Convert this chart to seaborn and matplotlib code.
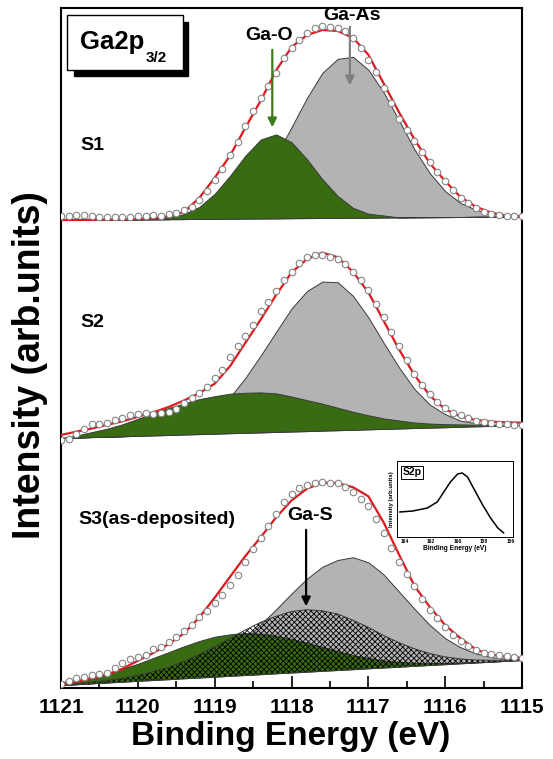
import matplotlib
matplotlib.use("Agg")
import numpy as np
import pandas as pd
import seaborn as sns
import matplotlib.pyplot as plt
from matplotlib.patches import Rectangle

# ---------------- data ----------------
E31 = [1121.0, 1120.8, 1120.6, 1120.4, 1120.2, 1120.0, 1119.8, 1119.6, 1119.4, 1119.2,
       1119.0, 1118.8, 1118.6, 1118.4, 1118.2, 1118.0, 1117.8, 1117.6, 1117.4, 1117.2,
       1117.0, 1116.8, 1116.6, 1116.4, 1116.2, 1116.0, 1115.8, 1115.6, 1115.4, 1115.2, 1115.0]
E61 = [1121.0, 1120.9, 1120.8, 1120.7, 1120.6, 1120.5, 1120.4, 1120.3, 1120.2, 1120.1,
       1120.0, 1119.9, 1119.8, 1119.7, 1119.6, 1119.5, 1119.4, 1119.3, 1119.2, 1119.1,
       1119.0, 1118.9, 1118.8, 1118.7, 1118.6, 1118.5, 1118.4, 1118.3, 1118.2, 1118.1,
       1118.0, 1117.9, 1117.8, 1117.7, 1117.6, 1117.5, 1117.4, 1117.3, 1117.2, 1117.1,
       1117.0, 1116.9, 1116.8, 1116.7, 1116.6, 1116.5, 1116.4, 1116.3, 1116.2, 1116.1,
       1116.0, 1115.9, 1115.8, 1115.7, 1115.6, 1115.5, 1115.4, 1115.3, 1115.2, 1115.1, 1115.0]

# S1
s1_bg = [0, 0.1, 0.2, 0.4, 0.5, 0.6, 0.7, 0.8, 0.9, 1.1, 1.2, 1.3, 1.4, 1.5, 1.6, 1.8,
         1.9, 2.0, 2.1, 2.2, 2.3, 2.5, 2.6, 2.7, 2.8, 2.9, 3.0, 3.2, 3.3, 3.4, 3.5]
s1_gao = [0, 0, 0, 0, 0, 0, 1, 2, 5, 12, 25, 43, 63, 79, 84, 76, 59, 39, 22, 10, 4, 2,
          0, 0, 0, 0, 0, 0, 0, 0, 0]
s1_gaas = [0, 0, 0, 0, 0, 0, 0, 0, 1, 3, 6, 12, 23, 40, 63, 91, 120, 145, 159, 161, 148,
           125, 97, 68, 44, 26, 14, 7, 3, 1, 0]
s1_fit = [0, 0, 0, 0, 0, 0.5, 1, 3, 7, 21, 41, 63, 91, 118, 148, 171, 183, 188, 187, 180,
          163, 134, 105, 78, 54, 36, 20, 10, 4, 1, 0]
s1_data = [4, 4, 5, 5, 4, 3, 3, 3, 3, 3, 4, 4, 5, 4, 6, 7, 10, 13, 20, 29, 40, 51, 65, 78,
           94, 109, 122, 134, 147, 162, 172, 180, 187, 192, 194, 193, 192, 189, 182, 172,
           160, 148, 132, 117, 101, 90, 79, 68, 58, 48, 39, 30, 22, 17, 12, 8, 6, 5, 4, 4, 4]

# S2
s2_bg = [0, 0.4, 0.9, 1.3, 1.7, 2.2, 2.6, 3.0, 3.5, 3.9, 4.3, 4.8, 5.2, 5.6, 6.1, 6.5,
         6.9, 7.4, 7.8, 8.2, 8.7, 9.1, 9.5, 10.0, 10.4, 10.8, 11.3, 11.7, 12.1, 12.6, 13.0]
s2_gao = [0, 2, 5, 8, 12, 17, 22, 27, 31, 35, 37.5, 39.5, 40, 40, 38.5, 35, 31, 27, 22.5,
          18, 14, 10.5, 8, 5.5, 4, 3, 2.3, 1.6, 1, 0.5, 0.2]
s2_gaas = [0, 0, 0, 0, 0, 1, 2, 3.5, 7, 13, 22, 36, 55, 77, 100, 123, 140, 149, 148, 134,
           112, 86, 61, 39, 23, 13, 6, 3, 1, 0.5, 0]
s2_fit = [3, 6, 8.5, 12, 15, 19, 23, 28, 34, 41, 50, 67, 90, 113, 137, 159, 172, 178, 173,
          158, 137, 108, 79, 53, 32, 18, 10, 6.3, 4.2, 3, 2.3]
s2_data = [-1.5, -1, 4, 9, 13.7, 14, 15.5, 18.5, 20.5, 23, 24.5, 25, 24, 25, 26.5, 29.5,
           35, 40, 45, 51.5, 60, 68, 81, 92, 102, 113, 127, 136, 147, 158, 166, 175, 181,
           183, 183, 181, 179, 174, 166, 158, 148, 134, 121, 106, 92, 78, 64, 53, 44,
           36.5, 30, 25.5, 23, 20, 17.5, 16, 15, 14.5, 14, 13, 13]

# S3
s3_bg = [0, 0.8, 1.7, 2.5, 3.3, 4.2, 5.0, 5.8, 6.7, 7.5, 8.3, 9.2, 10.0, 10.8, 11.7, 12.5,
         13.3, 14.2, 15.0, 15.8, 16.7, 17.5, 18.3, 19.2, 20.0, 20.8, 21.7, 22.5, 23.3, 24.2, 25.0]
s3_gao = [3, 4, 6.5, 9, 13, 17, 22, 27, 32, 36.5, 40, 41.5, 42, 40.5, 37.5, 33.5, 29, 24,
          19, 14, 10.5, 7, 5, 3, 2, 1.2, 0.7, 0.4, 0.2, 0.1, 0]
s3_gas = [0.4, 0.7, 1.2, 2, 3.5, 5.5, 8.5, 12, 17, 23, 30, 37.5, 45, 52, 57, 61, 62, 60, 56,
          49, 41, 32, 24, 17, 11.5, 7.3, 4.4, 2.5, 1.4, 0.7, 0.4]
s3_gaas = [0, 0, 0, 0.3, 0.5, 1, 2, 3.7, 6.5, 10.7, 17, 25, 36, 50, 64, 79, 93, 104, 110,
           112, 106, 93, 75, 57, 40, 26, 16, 9, 4.5, 2, 1]
s3_fit = [1, 2.5, 4.5, 8, 13, 20, 27, 35, 45, 60, 79, 99, 119, 137, 156, 172, 183, 188, 187,
          182, 172, 145, 112, 80, 58, 39, 25, 13, 7, 4, 2]
s3_data = [1, 4, 7, 8.5, 10, 11, 12, 17, 22, 26, 28, 30, 36, 38, 43, 48, 54, 60, 68, 74, 82,
           90, 100, 110, 123, 136, 147, 159, 171, 183, 191, 197, 200, 202, 203, 202, 202,
           198, 193, 186, 179, 166, 152, 137, 123, 111, 99, 86, 75, 67, 58, 50, 44, 39, 35,
           32.5, 31, 30, 29, 28, 27]

# inset S2p
s2p_E = [164.4, 163.4, 162.3, 161.55, 161.1, 160.55, 160.0, 159.65, 159.25, 158.8, 158.1,
         157.5, 156.95, 156.5]
s2p_I = [25, 26, 29, 35, 44, 55, 63, 64, 60, 49, 32, 19, 9, 4]

x_ticks = [1121, 1120, 1119, 1118, 1117, 1116, 1115]
panel_names = ["S1", "S2", "S3(as-deposited)"]

# ---------------- style ----------------
sns.set_style("white")
plt.rcParams['font.family'] = ['Liberation Sans', 'DejaVu Sans']
plt.rcParams['font.weight'] = 'bold'
plt.rcParams['text.color'] = 'black'
plt.rcParams['axes.labelcolor'] = 'black'
plt.rcParams['xtick.color'] = 'black'
plt.rcParams['ytick.color'] = 'black'
plt.rcParams['hatch.linewidth'] = 0.6

GREEN = "#386b12"
GRAY = "#b3b3b3"
EDGE = "#3a3a3a"
RED = "#e0191f"

W, H = 553, 759
fig = plt.figure(figsize=(W / 100, H / 100), dpi=100)
ax = fig.add_axes([61 / W, 1 - 688 / H, 461 / W, 680 / H])

offsets = [468, 250, 3]
panels = [
    dict(bg=s1_bg, comps=[(s1_gaas, GRAY, None), (s1_gao, GREEN, None)], fit=s1_fit, data=s1_data),
    dict(bg=s2_bg, comps=[(s2_gaas, GRAY, None), (s2_gao, GREEN, None)], fit=s2_fit, data=s2_data),
    dict(bg=s3_bg, comps=[(s3_gaas, GRAY, None), (s3_gao, GREEN, None), (s3_gas, "none", "xxxxxx")],
         fit=s3_fit, data=s3_data),
]

x31 = np.array(E31)
x61 = np.array(E61)
for off, p in zip(offsets, panels):
    base = off + np.array(p["bg"])
    for k, (comp, col, hatch) in enumerate(p["comps"]):
        top = base + np.array(comp)
        if hatch:
            ax.fill_between(x31, base, top, facecolor="none", edgecolor="black",
                            hatch=hatch, linewidth=0, zorder=2 + k)
            ax.plot(x31, top, color=EDGE, lw=0.7, zorder=2 + k)
        else:
            ax.fill_between(x31, base, top, facecolor=col, edgecolor=EDGE,
                            linewidth=0.7, zorder=2 + k)
    fit_df = pd.DataFrame({"E": x31, "I": base + np.array(p["fit"])})
    sns.lineplot(data=fit_df, x="E", y="I", ax=ax, color=RED, lw=1.6, sort=False,
                 zorder=6)
    dat_df = pd.DataFrame({"E": x61, "I": off + np.array(p["data"])})
    sns.scatterplot(data=dat_df, x="E", y="I", ax=ax, s=22, facecolor="white",
                    edgecolor="#858585", linewidth=0.8, zorder=7, legend=False)

ax.set_xlim(1121, 1115)
ax.set_ylim(0, 680)
ax.set_xticks(x_ticks)
ax.set_xticklabels([str(t) for t in x_ticks], fontsize=15, fontweight='bold')
ax.set_xticks([1120.5, 1119.5, 1118.5, 1117.5, 1116.5, 1115.5], minor=True)
ax.set_yticks([])
ax.tick_params(axis='x', which='major', direction='in', length=9, width=1.2, pad=7,
               bottom=True, top=False, colors='black')
ax.tick_params(axis='x', which='minor', direction='in', length=5, width=1.2,
               bottom=True, top=False, colors='black')
ax.set_xlabel("")
ax.set_ylabel("")
for s in ax.spines.values():
    s.set_linewidth(1.5)
    s.set_color("black")

fig.text(291 / W, 1 - 737 / H, "Binding Energy (eV)", fontsize=24, fontweight='bold',
         ha='center', va='center', color='black')
fig.text(30 / W, 1 - 365 / H, "Intensity (arb.units)", fontsize=27, fontweight='bold',
         ha='center', va='center', rotation=90, color='black')

# panel labels
ax.text(1120.75, 543, panel_names[0], fontsize=14, fontweight='bold', ha='left', va='center')
ax.text(1120.75, 365, panel_names[1], fontsize=14, fontweight='bold', ha='left', va='center')
ax.text(1120.78, 168, panel_names[2], fontsize=14, fontweight='bold', ha='left', va='center')

# peak labels and arrows
ax.text(1118.29, 653, "Ga-O", fontsize=14, fontweight='bold', ha='center', va='center', zorder=9)
ax.annotate("", xy=(1118.25, 558), xytext=(1118.25, 641),
            arrowprops=dict(arrowstyle='-|>', color="#3d7a1a", lw=1.6, mutation_scale=13),
            zorder=9)
ax.text(1117.21, 672, "Ga-As", fontsize=14, fontweight='bold', ha='center', va='center', zorder=9)
ax.annotate("", xy=(1117.24, 600), xytext=(1117.24, 664),
            arrowprops=dict(arrowstyle='-|>', color="#7f7f7f", lw=1.6, mutation_scale=13),
            zorder=9)
ax.text(1117.76, 173, "Ga-S", fontsize=14, fontweight='bold', ha='center', va='center', zorder=9)
ax.annotate("", xy=(1117.81, 79), xytext=(1117.81, 161),
            arrowprops=dict(arrowstyle='-|>', color="black", lw=1.6, mutation_scale=13),
            zorder=9)

# Ga2p3/2 box with shadow
def fx(px):
    return (px - 61) / 461
def fy(py):
    return (688 - py) / 680
ax.add_patch(Rectangle((fx(74), fy(76)), fx(188) - fx(74), fy(22) - fy(76),
                       transform=ax.transAxes, facecolor="black", edgecolor="black", zorder=10))
ax.add_patch(Rectangle((fx(67), fy(70)), fx(183) - fx(67), fy(15) - fy(70),
                       transform=ax.transAxes, facecolor="white", edgecolor="black",
                       lw=1.0, zorder=11))
t = ax.text(fx(80), fy(49), "Ga2p", transform=ax.transAxes, fontsize=18.5,
            fontweight='bold', ha='left', va='baseline', zorder=12)
ax.annotate("3/2", xy=(1.0, 0.0), xycoords=t, xytext=(1, -3), textcoords='offset points',
            fontsize=11, fontweight='bold', ha='left', va='center', zorder=12)

# inset
ins = fig.add_axes([397 / W, 1 - 537 / H, 116 / W, 76 / H])
sns.lineplot(x=s2p_E, y=s2p_I, ax=ins, color="black", lw=1.1, sort=False)
ins.set_xlim(164.6, 155.8)
ins.set_ylim(0, 76)
ins.set_yticks([])
ins.set_xticks([164, 162, 160, 158, 156])
ins.set_xticklabels(["164", "162", "160", "158", "156"], fontsize=3.5)
ins.tick_params(axis='x', direction='in', length=2, width=0.6, pad=1.5, colors='black')
ins.set_xlabel("Binding Energy (eV)", fontsize=4.8, fontweight='bold', labelpad=1)
ins.set_ylabel("Intensity (arb.units)", fontsize=4.3, fontweight='bold', labelpad=2)
for s in ins.spines.values():
    s.set_linewidth(0.7)
    s.set_color("black")
ins.text(0.05, 0.85, "S2p", transform=ins.transAxes, fontsize=7.5, fontweight='bold',
         ha='left', va='center',
         bbox=dict(boxstyle='square,pad=0.15', facecolor='white', edgecolor='black', lw=0.7))

fig.savefig("out.png", dpi=100)
